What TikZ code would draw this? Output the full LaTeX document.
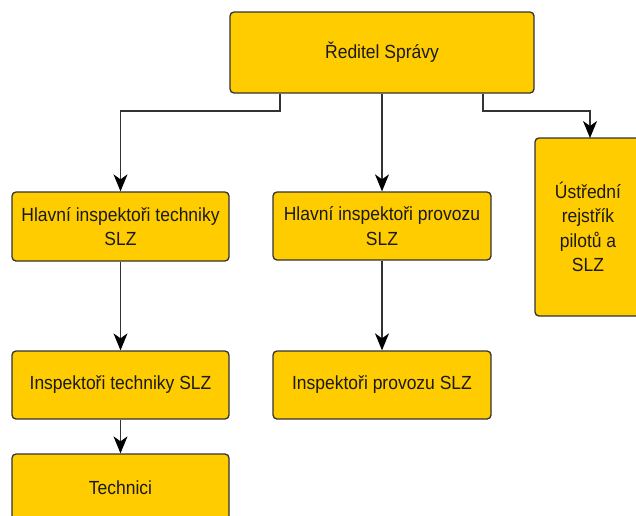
\documentclass[tikz,border=0pt]{standalone}
\usepackage{fontspec}
\setmainfont{Liberation Sans}[FakeStretch=0.92]
\usetikzlibrary{arrows.meta}
\definecolor{boxfill}{HTML}{FFCC00}
\definecolor{boxline}{HTML}{333333}
\definecolor{txt}{HTML}{1A1A1A}
\tikzset{
  orgbox/.style={draw=boxline, fill=boxfill, line width=1.3pt, rounded corners=4pt,
    inner sep=0pt, align=center, text=txt,
    font=\fontsize{19}{24.5}\selectfont},
  arr/.style={draw=boxline, line width=1.2pt,
    -{Stealth[length=17pt,width=14pt,inset=5pt,color=black]}}
}
\begin{document}
\begin{tikzpicture}[x=1pt,y=-1pt]
\useasboundingbox (0,0) rectangle (636,515);
\clip (0,0) rectangle (636,515);
\fill[white] (0,0) rectangle (636,515);

\node[orgbox, minimum width=304pt, minimum height=81pt] (top) at (382,52.5) {Ředitel Správy};
\node[orgbox, minimum width=217pt, minimum height=69pt] (hit) at (120.5,226.5) {Hlavní inspektoři techniky\\SLZ};
\node[orgbox, minimum width=218pt, minimum height=68pt] (hip) at (382,226) {Hlavní inspektoři provozu\\SLZ};
\node[orgbox, minimum width=106pt, minimum height=178pt] (ur) at (588,227) {Ústřední\\rejstřík\\pilotů a\\SLZ};
\node[orgbox, minimum width=217pt, minimum height=68pt] (it) at (120.5,385) {Inspektoři techniky SLZ};
\node[orgbox, minimum width=218pt, minimum height=68pt] (ip) at (382,385) {Inspektoři provozu SLZ};
\node[orgbox, minimum width=217pt, minimum height=68pt] (tech) at (120.5,488) {Technici};

\coordinate (j1) at (280,111);
\coordinate (j2) at (483,111);
\coordinate (urin) at (590,138);

\draw[arr] (top.south -| j1) -- (j1) -| (hit.north);
\draw[arr] (top.south) -- (hip.north);
\draw[arr] (top.south -| j2) -- (j2) -| (urin);
\draw[arr] (hit.south) -- (it.north);
\draw[arr] (it.south) -- (tech.north);
\draw[arr] (hip.south) -- (ip.north);
\end{tikzpicture}
\end{document}
